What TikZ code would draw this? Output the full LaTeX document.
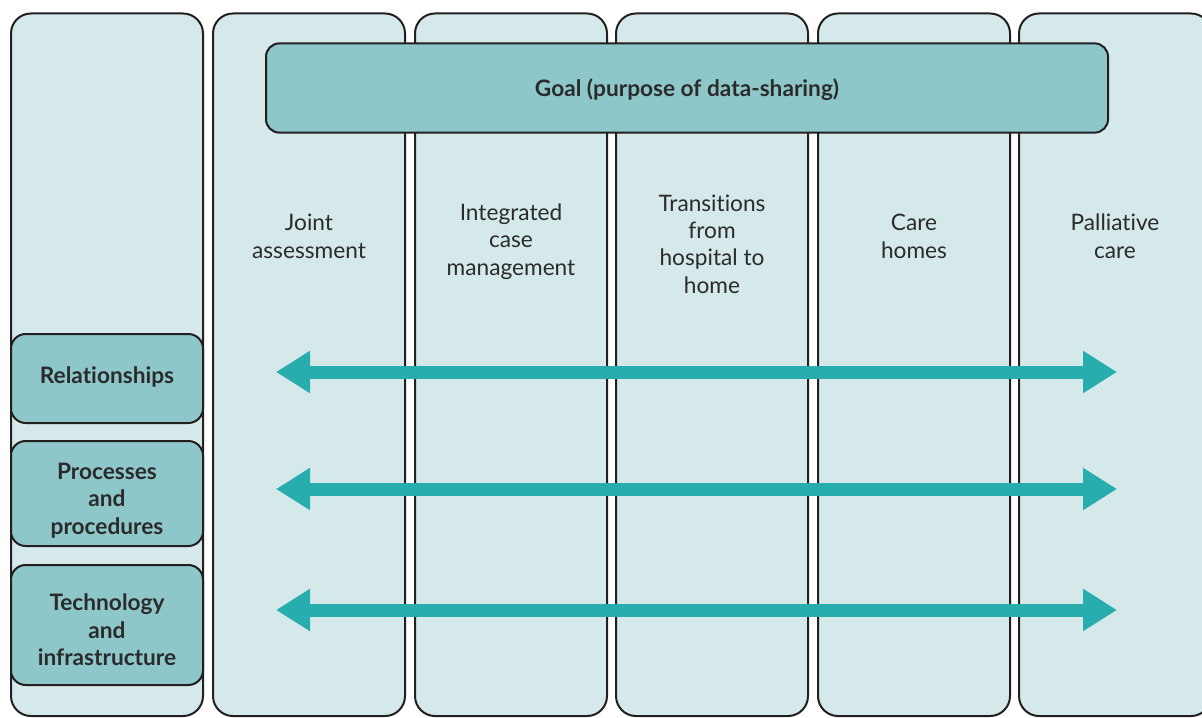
\documentclass[tikz,border=0pt]{standalone}
\usepackage{fontspec}
\setmainfont{Lato}[Ligatures=NoCommon]
\usetikzlibrary{arrows.meta}
\definecolor{colfill}{HTML}{D5E9EA}
\definecolor{boxfill}{HTML}{8DC7CA}
\definecolor{arrowc}{HTML}{27ADAD}
\definecolor{edgec}{HTML}{231F20}
\definecolor{txt}{HTML}{2B2B2B}
\begin{document}
\begin{tikzpicture}[x=0.75pt,y=-0.75pt,
  colbox/.style={draw=edgec, line width=1.5pt, fill=colfill, rounded corners=15pt,
    minimum width=144pt, minimum height=526.9pt, inner sep=0pt},
  goalbox/.style={draw=edgec, line width=1.5pt, fill=boxfill, rounded corners=10pt,
    minimum width=631.5pt, minimum height=66.9pt, inner sep=0pt},
  catbox/.style={draw=edgec, line width=1.5pt, fill=boxfill, rounded corners=11pt,
    minimum width=144pt, inner sep=0pt},
  boldtext/.style={anchor=base, align=center, inner sep=0pt,
    font=\fontsize{17pt}{20.5pt}\selectfont\bfseries, text=txt},
  collabel/.style={anchor=base, align=center, inner sep=0pt,
    font=\fontsize{17pt}{20.5pt}\selectfont, text=txt},
  twoway/.style={draw=arrowc, line width=9.75pt,
    {Triangle[length=25.5pt,width=30pt]}-{Triangle[length=25.5pt,width=30pt]}}
]
\useasboundingbox (0,0) rectangle (1202,717);
\clip (0,0) rectangle (1202,717);
% columns
\node[colbox] (c1) at (107,364.75) {};
\node[colbox] (c2) at (309,364.75) {};
\node[colbox] (c3) at (511,364.75) {};
\node[colbox] (c4) at (712,364.75) {};
\node[colbox] (c5) at (914,364.75) {};
\node[colbox] (c6) at (1115,364.75) {};
% goal
\node[goalbox] (goal) at (687,88) {};
\node[boldtext] (goalt) at (687,96) {Goal (purpose of data-sharing)};
% column labels (anchor = baseline of last line)
\node[collabel] (l2) at (309,258) {Joint\\assessment};
\node[collabel] (l3) at (511,275) {Integrated\\case\\management};
\node[collabel] (l4) at (712,293) {Transitions\\from\\hospital to\\home};
\node[collabel] (l5) at (914,258) {Care\\homes};
\node[collabel] (l6) at (1115,258) {Palliative\\care};
% categories
\node[catbox, minimum height=66.75pt] (rel) at (107,378.5) {};
\node[catbox, minimum height=78.75pt] (proc) at (107,493.5) {};
\node[catbox, minimum height=90pt] (tech) at (107,625) {};
\node[boldtext] (relt) at (107,383) {Relationships};
\node[boldtext] (proct) at (107,534) {Processes\\and\\procedures};
\node[boldtext] (techt) at (107,665.5) {Technology\\and\\infrastructure};
% arrow ends
\coordinate (a1l) at (276,372);
\coordinate (a1r) at (1117,372);
\coordinate (a2l) at (276,489);
\coordinate (a2r) at (1117,489);
\coordinate (a3l) at (276,610);
\coordinate (a3r) at (1117,610);
\draw[twoway] (a1l) -- (a1r);
\draw[twoway] (a2l) -- (a2r);
\draw[twoway] (a3l) -- (a3r);
\end{tikzpicture}
\end{document}
